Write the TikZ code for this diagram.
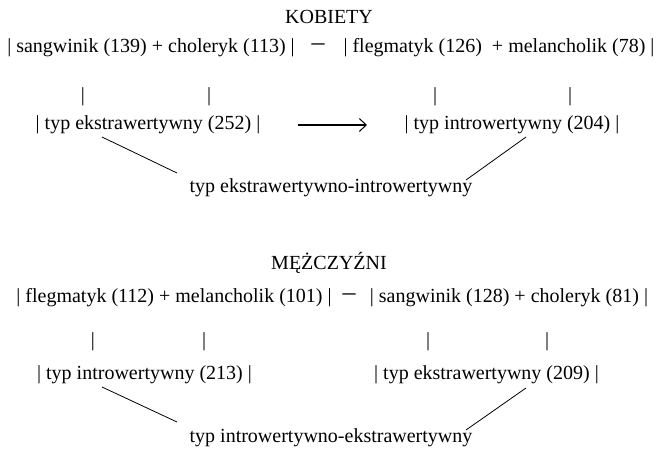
\documentclass[tikz,border=0pt]{standalone}
\usepackage{fontspec}
\setmainfont{Liberation Serif}
\newfontfamily\tnr{Liberation Serif}
\usetikzlibrary{arrows.meta}
\begin{document}
\begin{tikzpicture}[x=1pt,y=-1pt,
  txt/.style={inner sep=0pt,font=\tnr\fontsize{20}{24}\selectfont},
  dsh/.style={inner sep=0pt,font=\tnr\fontsize{26}{30}\selectfont},
  conn/.style={line width=0.8pt},
  arr/.style={line width=1.2pt,-{Straight Barb[length=7pt,width=13pt,line width=1pt]}}]
\useasboundingbox (0,0) rectangle (658,454);
% KOBIETY
\node[txt] (k) at (329,17) {KOBIETY};
\node[txt] (k1a) at (151,48) {| sangwinik (139) + choleryk (113) |};
\node[dsh] (kd) at (318,47) {–};
\node[txt] (k1b) at (499,48) {| flegmatyk (126)\ \ + melancholik (78) |};
\node[txt] (kb1) at (83,97) {|};
\node[txt] (kb2) at (209,97) {|};
\node[txt] (kb3) at (435,97) {|};
\node[txt] (kb4) at (570,97) {|};
\node[txt] (k2a) at (148,125) {| typ ekstrawertywny (252) |};
\node[txt] (k2b) at (512,125) {| typ introwertywny (204) |};
\node[txt] (k3) at (331,188) {typ ekstrawertywno-introwertywny};
\coordinate (ka0) at (298,125);
\coordinate (ka1) at (367,125);
\draw[arr] (ka0) -- (ka1);
\coordinate (kl1) at (102,137);
\coordinate (kl2) at (177,173);
\coordinate (kr1) at (526,137);
\coordinate (kr2) at (466,180);
\draw[conn] (kl1) -- (kl2);
\draw[conn] (kr1) -- (kr2);
% MEZCZYZNI
\node[txt] (m) at (329,263) {MĘŻCZYŹNI};
\node[txt] (m1a) at (174,298) {| flegmatyk (112) + melancholik (101) |};
\node[dsh] (md) at (349,297) {–};
\node[txt] (m1b) at (509,298) {| sangwinik (128) + choleryk (81) |};
\node[txt] (mb1) at (93,342) {|};
\node[txt] (mb2) at (204,342) {|};
\node[txt] (mb3) at (428,342) {|};
\node[txt] (mb4) at (547,342) {|};
\node[txt] (m2a) at (144.5,375) {| typ introwertywny (213) |};
\node[txt] (m2b) at (486.5,375) {| typ ekstrawertywny (209) |};
\node[txt] (m3) at (331,438) {typ introwertywno-ekstrawertywny};
\coordinate (ml1) at (102,387);
\coordinate (ml2) at (177,422);
\coordinate (mr1) at (526,388);
\coordinate (mr2) at (466,430);
\draw[conn] (ml1) -- (ml2);
\draw[conn] (mr1) -- (mr2);
\end{tikzpicture}
\end{document}
